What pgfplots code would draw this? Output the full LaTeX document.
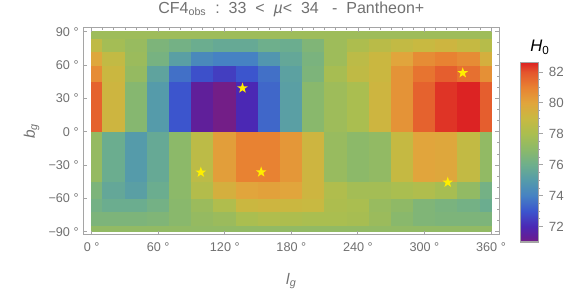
\documentclass[border=0pt]{standalone}
\usepackage{fontspec}
\setmainfont{Liberation Sans}
\usepackage{pgfplots}
\pgfplotsset{compat=1.18}
\definecolor{fr}{RGB}{165,165,165}
\definecolor{tx}{RGB}{112,112,112}
\definecolor{sy}{RGB}{255,238,0}
\pgfdeclareplotmark{fstar}{%
  \pgfpathmoveto{\pgfqpointpolar{90}{\pgfplotmarksize}}%
  \pgfpathlineto{\pgfpointpolar{126}{0.4\pgfplotmarksize}}%
  \pgfpathlineto{\pgfpointpolar{162}{\pgfplotmarksize}}%
  \pgfpathlineto{\pgfpointpolar{198}{0.4\pgfplotmarksize}}%
  \pgfpathlineto{\pgfpointpolar{234}{\pgfplotmarksize}}%
  \pgfpathlineto{\pgfpointpolar{270}{0.4\pgfplotmarksize}}%
  \pgfpathlineto{\pgfpointpolar{306}{\pgfplotmarksize}}%
  \pgfpathlineto{\pgfpointpolar{342}{0.4\pgfplotmarksize}}%
  \pgfpathlineto{\pgfpointpolar{18}{\pgfplotmarksize}}%
  \pgfpathlineto{\pgfpointpolar{54}{0.4\pgfplotmarksize}}%
  \pgfpathclose\pgfusepathqfill}
\begin{document}
\begin{tikzpicture}
\useasboundingbox (-62.5pt,-53.6pt) rectangle ++(429.75pt,229.5pt);
\begin{axis}[
  scale only axis, width=312pt, height=155.25pt,
  xmin=-7.5, xmax=367.5, ymin=-92.5, ymax=93.8,
  axis on top,
  axis line style={fr,line width=1pt},
  every tick/.append style={fr,line width=0.6pt},
  major tick length=3pt,
  tick align=inside,
  xtick pos=bottom, ytick pos=left,
  xtick={0,60,120,180,240,300,360},
  xticklabels={0 °,60 °,120 °,180 °,240 °,300 °,360 °},
  ytick={-90,-60,-30,0,30,60,90},
  yticklabels={−90 °,−60 °,−30 °,0 °,30 °,60 °,90 °},
  tick label style={tx,font=\fontsize{9.5}{11}\selectfont},
  xticklabel style={yshift=-2.5pt},
  xlabel={\textit{l}\textsubscript{\textit{g}}},
  xlabel style={yshift=-9.5pt},
  ylabel={\textit{b}\textsubscript{\textit{g}}},
  label style={tx,font=\fontsize{11.5}{13}\selectfont},
  colormap={h0}{
    rgb255(0pt)=(118,30,132);
    rgb255(3pt)=(100,30,150);
    rgb255(10pt)=(75,40,180);
    rgb255(20pt)=(60,85,205);
    rgb255(30pt)=(70,130,195);
    rgb255(40pt)=(85,155,170);
    rgb255(50pt)=(110,175,140);
    rgb255(60pt)=(140,185,105);
    rgb255(70pt)=(170,190,80);
    rgb255(80pt)=(200,185,65);
    rgb255(90pt)=(225,165,60);
    rgb255(100pt)=(232,130,50);
    rgb255(110pt)=(228,85,45);
    rgb255(116pt)=(220,35,35)},
  point meta min=71, point meta max=82.6,
  colorbar,
  colorbar style={
    at={(1.0498,-0.0362)}, anchor=south west,
    scale only axis, width=13.5pt, height=134.5pt,
    ytick={72,74,76,78,80,82}, minor y tick num=3,
    ytick pos=right, yticklabel pos=right,
    xtick pos=bottom,
    tick align=outside,
    major tick length=3.6pt, minor tick length=1.8pt,
    yticklabel style={tx,font=\fontsize{10}{12}\selectfont,xshift=1pt},
    /pgf/number format/assume math mode=true,
    axis line style={fr,line width=0.8pt},
  },
]
\addplot[surf, shader=flat corner, mesh/cols=20, point meta=explicit]
 table[row sep=\\, x=x, y=y, meta=c]{
x y c\\
0 -90 77.2\\10 -90 77.2\\30 -90 77.2\\50 -90 77.2\\70 -90 77.2\\90 -90 77.2\\110 -90 77.2\\130 -90 77.2\\150 -90 77.2\\170 -90 77.2\\190 -90 77.2\\210 -90 77.2\\230 -90 77.2\\250 -90 77.2\\270 -90 77.2\\290 -90 77.2\\310 -90 77.2\\330 -90 77.2\\350 -90 77.2\\360 -90 77.2\\
0 -84 76.5\\10 -84 76.5\\30 -84 76.5\\50 -84 76.6\\70 -84 76.9\\90 -84 77.3\\110 -84 77.5\\130 -84 78\\150 -84 78.2\\170 -84 78.1\\190 -84 78\\210 -84 78\\230 -84 77.9\\250 -84 77.5\\270 -84 76.9\\290 -84 76.6\\310 -84 76.5\\330 -84 76.5\\350 -84 76.5\\360 -84 76.5\\
0 -72 76.2\\10 -72 75.9\\30 -72 75.9\\50 -72 76.2\\70 -72 76.9\\90 -72 77.5\\110 -72 78.2\\130 -72 79.1\\150 -72 79.2\\170 -72 79.1\\190 -72 79\\210 -72 78.1\\230 -72 78\\250 -72 77.4\\270 -72 77.1\\290 -72 76.6\\310 -72 76.4\\330 -72 76.2\\350 -72 75.9\\360 -72 75.9\\
0 -60 76.5\\10 -60 75.6\\30 -60 75.2\\50 -60 75.9\\70 -60 77\\90 -60 78.3\\110 -60 79.5\\130 -60 80\\150 -60 80.1\\170 -60 80\\190 -60 79.2\\210 -60 78.2\\230 -60 77.8\\250 -60 77.8\\270 -60 78\\290 -60 78.2\\310 -60 77.9\\330 -60 77.2\\350 -60 76.2\\360 -60 76.2\\
0 -45 77.3\\10 -45 75.9\\30 -45 75\\50 -45 75.7\\70 -45 77\\90 -45 78.6\\110 -45 80.2\\130 -45 81\\150 -45 81\\170 -45 80.4\\190 -45 79.2\\210 -45 77.4\\230 -45 77\\250 -45 77.2\\270 -45 78.9\\290 -45 80\\310 -45 79.9\\330 -45 78.8\\350 -45 77.2\\360 -45 77.2\\
0 0 81.7\\10 0 79.2\\30 0 76.8\\50 0 75\\70 0 73\\90 0 71.4\\110 0 71.05\\130 0 72\\150 0 73.4\\170 0 75.2\\190 0 76.9\\210 0 77.6\\230 0 78\\250 0 79.2\\270 0 80.5\\290 0 81.7\\310 0 82.4\\330 0 82.6\\350 0 81.8\\360 0 81.8\\
0 45 80.7\\10 45 79.1\\30 45 77.3\\50 45 75.4\\70 45 73.6\\90 45 72.9\\110 45 72.5\\130 45 73\\150 45 73.6\\170 45 75.3\\190 45 76.5\\210 45 77.9\\230 45 78.7\\250 45 79.1\\270 45 80.5\\290 45 81.3\\310 45 81.8\\330 45 81.4\\350 45 80.6\\360 45 80.6\\
0 60 79.9\\10 60 78.8\\30 60 77.5\\50 60 76.3\\70 60 75.2\\90 60 74.3\\110 60 74\\130 60 74\\150 60 74.8\\170 60 75.6\\190 60 76.4\\210 60 77.6\\230 60 78.6\\250 60 79.1\\270 60 80\\290 60 80.7\\310 60 81\\330 60 80.7\\350 60 79.5\\360 60 79.5\\
0 72 78.7\\10 72 77.8\\30 72 77.4\\50 72 76.5\\70 72 76.2\\90 72 75.9\\110 72 75.7\\130 72 75.7\\150 72 76\\170 72 75.9\\190 72 76.6\\210 72 77.6\\230 72 78.1\\250 72 78.5\\270 72 78.8\\290 72 79\\310 72 79.2\\330 72 78.9\\350 72 78.4\\360 72 78.4\\
0 84 77.6\\10 84 77.6\\30 84 77.6\\50 84 77.6\\70 84 77.6\\90 84 77.6\\110 84 77.6\\130 84 77.6\\150 84 77.6\\170 84 77.6\\190 84 77.6\\210 84 77.6\\230 84 77.6\\250 84 77.6\\270 84 77.6\\290 84 77.6\\310 84 77.6\\330 84 77.6\\350 84 77.6\\360 84 77.6\\
0 90 77.6\\10 90 77.6\\30 90 77.6\\50 90 77.6\\70 90 77.6\\90 90 77.6\\110 90 77.6\\130 90 77.6\\150 90 77.6\\170 90 77.6\\190 90 77.6\\210 90 77.6\\230 90 77.6\\250 90 77.6\\270 90 77.6\\290 90 77.6\\310 90 77.6\\330 90 77.6\\350 90 77.6\\360 90 77.6\\
};
\addplot[only marks, mark=fstar, mark size=4.2pt, color=sy] coordinates {
 (136,39.3) (98.4,-36.5) (152.8,-36.3) (321,-45.5) (334.5,53)};
\end{axis}
\begin{axis}[
  scale only axis, width=312pt, height=155.25pt,
  xmin=-7.5, xmax=367.5, ymin=-92.5, ymax=93.8,
  axis line style={fr,line width=1pt},
  every tick/.append style={fr,line width=0.6pt},
  major tick length=3.6pt, minor tick length=2pt,
  tick align=inside,
  xtick pos=top, ytick pos=right,
  xtick={0,60,120,180,240,300,360},
  ytick={-90,-60,-30,0,30,60,90},
  minor x tick num=5, minor y tick num=2,
  xticklabels={}, yticklabels={},
]
\end{axis}
\node[tx, font=\fontsize{12}{14}\selectfont] at (156pt,169pt)
  {CF4\textsubscript{obs}~~:~~33~~<~~\textit{\textmu}<~~34~~~-~~Pantheon+};
\node[font=\fontsize{12.5}{14}\selectfont] at (342.5pt,140.6pt) {\textit{H}\textsubscript{0}};
\end{tikzpicture}
\end{document}
